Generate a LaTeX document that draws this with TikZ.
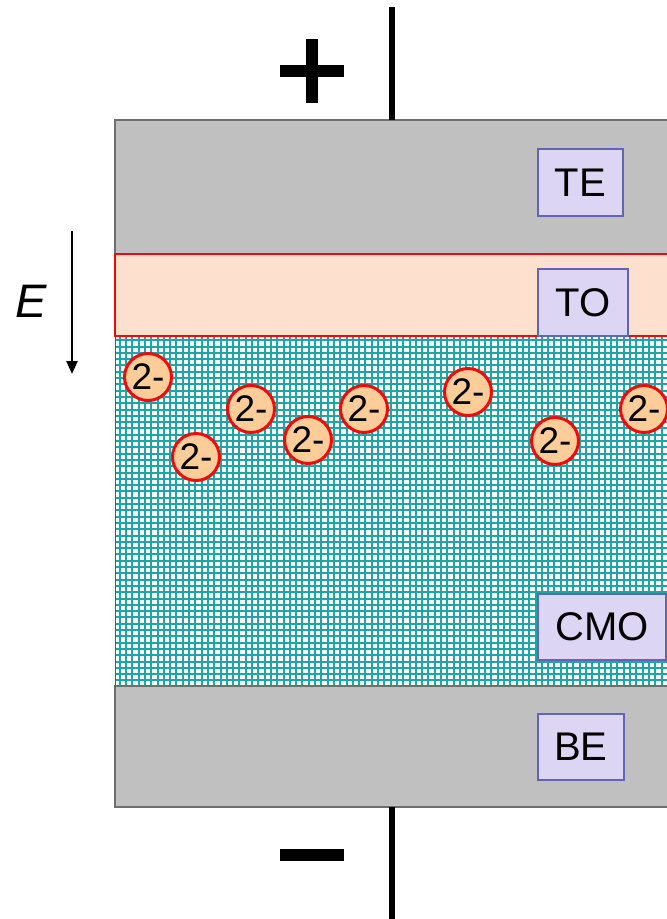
\documentclass[tikz,border=0pt]{standalone}
\usepackage{fontspec}
\setmainfont{Liberation Sans}
\usetikzlibrary{arrows.meta}
\definecolor{elgray}{RGB}{192,192,192}
\definecolor{elborder}{RGB}{110,110,110}
\definecolor{tofill}{RGB}{253,224,206}
\definecolor{gridcol}{RGB}{30,165,165}
\definecolor{lblfill}{RGB}{220,214,244}
\definecolor{lblborder}{RGB}{100,100,180}
\definecolor{ionfill}{RGB}{252,204,153}
\definecolor{ionred}{RGB}{240,10,10}
\tikzset{
  lbl/.style={draw=lblborder, line width=1.8pt, fill=lblfill, font=\fontsize{40}{40}\selectfont, inner sep=0pt, anchor=north west},
  ion/.style={circle, draw=ionred, line width=3pt, fill=ionfill, minimum size=47pt, inner sep=0pt, font=\fontsize{37}{37}\selectfont},
}
\begin{document}
\begin{tikzpicture}[x=1pt,y=-1pt]
\useasboundingbox (0,0) rectangle (667,919);
% top electrode
\draw[draw=elborder, line width=1.8pt, fill=elgray] (115,120) rectangle (670,254);
% TO layer
\draw[draw=ionred, line width=1.4pt, fill=tofill] (115,254) rectangle (670,336);
% CMO layer with grid
\fill[white] (115,337) rectangle (667,686);
\begin{scope}
\clip (115,337) rectangle (667,686);
\draw[gridcol, line width=2pt] (115,337) grid[step=6.3pt] (670,690);
\end{scope}
\draw[gridcol!70!black, line width=1pt] (115,337) -- (115,686);
% bottom electrode
\draw[draw=elborder, line width=1.8pt, fill=elgray] (115,686) rectangle (670,807);
% wires
\coordinate (topend) at (392,7);
\coordinate (topjoin) at (392,120);
\coordinate (botjoin) at (392,807);
\coordinate (botend) at (392,919);
\draw[line width=6pt] (topend) -- (topjoin);
\draw[line width=6pt] (botjoin) -- (botend);
% plus and minus
\fill (280,65) rectangle (344,77);
\fill (306,39) rectangle (318,103);
\fill (280,849) rectangle (344,861);
% field arrow
\coordinate (eTop) at (72,231);
\coordinate (eBot) at (72,374);
\draw[line width=2.4pt, -{Triangle[length=13pt,width=11pt]}] (eTop) -- (eBot);
\node[font=\fontsize{47}{47}\selectfont\itshape] (E) at (31,301) {E};
% labels
\node[lbl, minimum width=85pt, minimum height=67pt] (TE) at (537,148) {TE};
\node[lbl, minimum width=90pt, minimum height=67pt] (TO) at (537,268) {TO};
\node[lbl, minimum width=128pt, minimum height=66pt] (CMO) at (537,593) {CMO};
\node[lbl, minimum width=86pt, minimum height=66pt] (BE) at (537,713) {BE};
% ions
\node[ion] (i1) at (148,377) {2-};
\node[ion] (i2) at (196,457) {2-};
\node[ion] (i3) at (251,409) {2-};
\node[ion] (i4) at (308,440) {2-};
\node[ion] (i5) at (364,409) {2-};
\node[ion] (i6) at (468,392) {2-};
\node[ion] (i7) at (555,441) {2-};
\node[ion] (i8) at (644,409) {2-};
\end{tikzpicture}
\end{document}
